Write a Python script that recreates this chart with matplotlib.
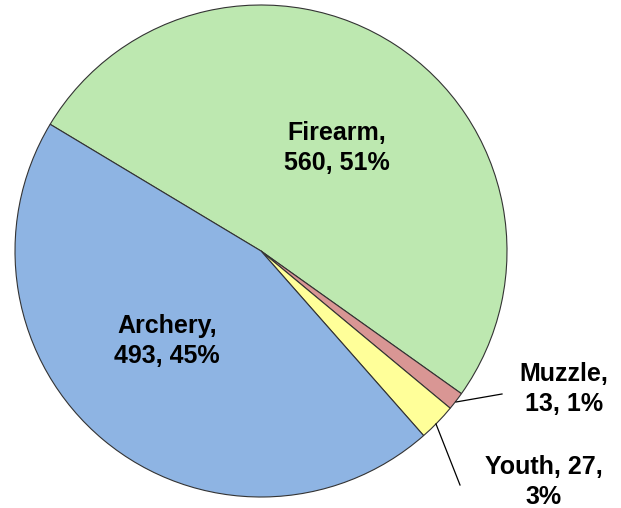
import matplotlib
matplotlib.use("Agg")
import matplotlib.pyplot as plt

categories = ["Firearm", "Muzzle", "Youth", "Archery"]
values = [560, 13, 27, 493]
labels = ["Firearm,\n560, 51%", "Muzzle,\n13, 1%", "Youth, 27,\n3%", "Archery,\n493, 45%"]
colors = ["#BDE8B0", "#D99694", "#FFFF99", "#8EB4E3"]

W, H = 621, 508
fig = plt.figure(figsize=(W / 100, H / 100), dpi=100)
ax = fig.add_axes([0, 0, 1, 1])

cx, cy, r = 261, H - 251, 246
wedges, _ = ax.pie(values, colors=colors, startangle=149, counterclock=False,
                   center=(cx, cy), radius=r, frame=True,
                   wedgeprops=dict(edgecolor="#333333", linewidth=0.8))
ax.set_xlim(0, W)
ax.set_ylim(0, H)
ax.set_aspect("equal")
ax.axis("off")

font = dict(family=["Liberation Sans", "DejaVu Sans"], fontsize=18,
            fontweight="bold", ha="center", va="center", linespacing=1.3)

ax.text(337, H - 148, labels[0], **font)
ax.text(167, H - 341, labels[3], **font)
ax.text(564, H - 389, labels[1], **font)
ax.text(544, H - 482, labels[2], **font)

# leader lines
ax.plot([456, 502], [H - 402, H - 394], color="black", lw=0.9)
ax.plot([436, 460], [H - 424, H - 485], color="black", lw=0.9)

fig.savefig("out.png", dpi=100)
